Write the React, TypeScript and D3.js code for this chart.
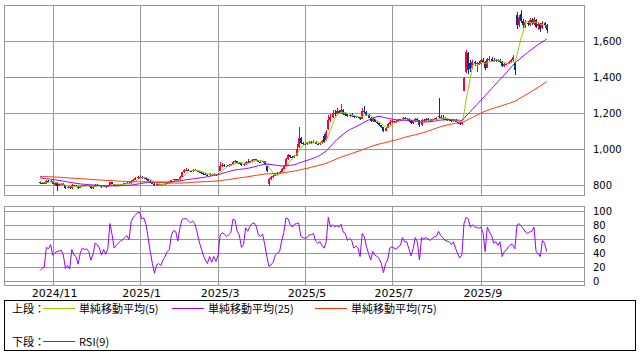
import React from 'react';
import * as d3 from 'd3';

// closes before the first visible day (only used to seed the moving averages)
const historyCloses = [
  845, 848, 852, 855, 850, 846, 849, 853, 857, 860, 858, 854, 851, 848, 850, 853, 856, 852, 849, 847,
  850, 854, 858, 861, 857, 853, 850, 848, 851, 855, 852, 849, 846, 850, 853, 856, 859, 855, 851, 848,
  846, 849, 852, 855, 851, 848, 850, 853, 851, 849,
  855, 858, 852, 848, 850, 853, 849, 846, 851, 848, 845, 850, 847, 843, 840, 836, 838, 834, 830, 826,
  824, 820, 818, 815,
];

// daily candles [open, high, low, close], 2024/10/24 .. 2025/10/16
const candles: [number, number, number, number][] = [
  [818,822,808,812],[812,816,806,810],[810,814,805,808],[808,826,806,822],[824,828,816,820],[818,828,815,824],[822,824,805,808],[800,815,795,812],[812,814,767,795],[795,808,792,805],
  [805,812,800,808],[808,810,798,802],[800,802,780,785],[785,795,782,790],[790,792,778,782],[782,804,780,800],[800,802,790,795],[795,798,788,793],[793,795,780,784],[784,796,782,793],
  [793,802,790,798],[798,800,792,797],[797,802,794,798],[798,800,790,794],[794,796,778,783],[783,792,778,790],[790,804,788,800],[800,803,794,799],[799,801,792,796],[796,797,786,789],
  [789,798,787,795],[795,797,786,790],[790,798,788,795],[796,818,794,815],[815,816,804,807],[807,808,795,798],[798,803,795,800],[800,805,797,802],[802,807,799,804],[804,809,800,806],
  [806,812,803,809],[809,815,806,812],[812,814,805,809],[810,826,808,822],[822,834,820,830],[830,842,828,838],[838,852,835,845],[845,855,840,847],[847,850,836,840],[840,846,835,842],
  [842,844,830,834],[834,836,822,825],[825,827,812,815],[815,817,804,808],[808,810,795,800],[800,806,797,803],[803,807,800,804],[804,806,797,801],[801,808,799,805],[805,811,802,808],
  [808,814,805,812],[812,817,809,814],[814,830,812,826],[826,836,823,832],[832,835,826,831],[831,833,822,826],[826,850,824,845],[845,875,843,870],[870,890,866,882],[882,892,876,885],
  [885,888,876,880],[880,884,872,878],[878,890,875,885],[885,890,878,882],[882,884,872,876],[876,880,866,870],[870,874,862,866],[866,870,858,862],[862,866,854,858],[858,862,850,855],
  [855,864,852,860],[860,862,852,856],[856,864,853,860],[860,862,852,857],[857,866,855,862],[880,930,876,905],[905,925,900,912],[912,918,902,908],[908,912,900,905],[905,914,902,910],
  [910,918,906,914],[914,935,912,930],[930,940,925,932],[932,935,922,925],[925,928,918,922],[922,924,908,912],[912,920,908,915],[915,932,913,928],[928,945,922,925],[925,935,922,932],
  [932,942,928,938],[938,946,934,942],[942,944,935,938],[938,940,928,930],[930,933,925,928],[928,936,925,932],[932,934,912,915],[905,908,875,880],[805,840,792,835],[835,850,830,845],
  [845,858,840,852],[852,866,848,862],[862,872,856,868],[868,876,862,872],[872,895,870,890],[890,910,886,905],[905,950,903,945],[945,972,940,965],[965,968,952,958],[958,962,948,955],
  [955,968,950,962],[962,1030,960,1000],[1010,1122,1005,1060],[1060,1065,1030,1035],[1035,1040,1022,1030],[1030,1036,1020,1028],[1028,1040,1024,1032],[1032,1045,1028,1038],[1038,1042,1030,1036],[1036,1048,1032,1040],
  [1040,1042,1026,1030],[1030,1034,1022,1028],[1028,1038,1024,1032],[1032,1050,1028,1045],[1075,1085,1035,1040],[1050,1105,1045,1095],[1110,1190,1105,1160],[1160,1195,1150,1180],[1180,1215,1175,1200],[1200,1215,1185,1195],
  [1195,1225,1190,1210],[1210,1218,1195,1200],[1200,1252,1195,1215],[1215,1220,1190,1195],[1195,1205,1185,1192],[1192,1196,1178,1182],[1182,1195,1178,1190],[1190,1198,1180,1186],[1186,1190,1172,1176],[1176,1186,1172,1182],
  [1182,1186,1170,1176],[1176,1180,1160,1165],[1168,1228,1165,1210],[1210,1240,1198,1205],[1205,1212,1185,1190],[1190,1195,1170,1175],[1175,1180,1150,1155],[1155,1172,1150,1165],[1165,1168,1148,1152],[1152,1158,1138,1142],
  [1142,1148,1128,1132],[1132,1136,1115,1120],[1120,1124,1096,1102],[1102,1125,1098,1118],[1118,1142,1115,1138],[1138,1160,1135,1152],[1152,1162,1145,1155],[1155,1158,1145,1150],[1150,1160,1146,1154],[1154,1165,1150,1160],
  [1160,1168,1155,1164],[1164,1180,1160,1175],[1175,1178,1165,1170],[1170,1175,1162,1168],[1168,1170,1152,1158],[1158,1160,1138,1145],[1145,1158,1140,1154],[1154,1172,1150,1166],[1166,1170,1155,1160],[1160,1162,1125,1132],
  [1132,1168,1130,1160],[1160,1165,1150,1158],[1158,1172,1155,1165],[1165,1170,1155,1160],[1160,1165,1150,1158],[1158,1168,1155,1164],[1164,1175,1160,1168],[1168,1180,1162,1172],[1185,1285,1165,1178],[1178,1190,1165,1172],
  [1172,1188,1160,1168],[1168,1180,1160,1165],[1165,1172,1158,1164],[1164,1168,1155,1162],[1162,1165,1150,1156],[1156,1166,1152,1162],[1162,1164,1148,1152],[1152,1155,1140,1146],[1146,1150,1135,1140],[1140,1152,1136,1148],
  [1325,1400,1320,1393],[1430,1548,1425,1540],[1535,1540,1415,1440],[1480,1492,1430,1445],[1450,1495,1445,1485],[1485,1490,1460,1470],[1470,1485,1430,1478],[1478,1488,1465,1472],[1472,1498,1468,1492],[1492,1505,1478,1485],
  [1485,1488,1440,1448],[1450,1505,1448,1498],[1498,1515,1490,1502],[1502,1510,1485,1490],[1490,1505,1486,1495],[1495,1500,1482,1488],[1488,1502,1484,1496],[1496,1500,1478,1485],[1485,1488,1455,1460],[1460,1478,1456,1470],
  [1470,1480,1465,1474],[1474,1490,1470,1482],[1482,1500,1478,1492],[1492,1522,1485,1512],[1480,1485,1410,1440],[1745,1760,1665,1690],[1690,1745,1680,1735],[1750,1770,1700,1710],[1710,1720,1670,1690],[1685,1715,1675,1705],
  [1700,1710,1685,1695],[1690,1725,1685,1715],[1715,1725,1690,1700],[1695,1735,1690,1720],[1715,1720,1670,1680],[1685,1705,1660,1695],[1695,1700,1650,1665],[1670,1710,1665,1700],[1700,1705,1670,1690],[1690,1695,1645,1660],
];

const rsi9 = [
  15,18,20,48,46,52,37,40,42,43, 44,37,18,22,17,45,37,35,24,40,
  47,45,46,42,30,38,54,52,47,37, 45,38,47,82,66,47,51,54,57,59,
  62,65,59,85,91,94,98,98,89,90, 81,62,42,25,11,23,25,22,30,35,
  42,45,66,72,71,57,76,88,89,89, 86,83,86,82,71,57,47,37,30,25,
  35,27,35,28,37,66,69,67,64,66, 69,88,87,71,66,48,52,76,71,78,
  82,83,78,66,64,67,52,35,21,23, 27,37,40,42,57,69,90,89,81,77,
  81,82,83,64,62,61,62,66,66,68, 57,54,56,51,47,56,91,77,80,77,
  79,77,81,70,68,58,61,58,47,50, 47,35,68,63,49,39,30,42,37,35,
  32,25,12,25,30,47,49,47,45,49, 51,62,56,56,46,36,46,62,56,30,
  62,60,62,60,58,61,63,64,71,65, 62,58,57,56,52,56,47,39,33,37,
  82,91,89,77,80,77,77,75,77,68, 42,77,70,65,54,56,51,56,35,42,
  44,49,52,52,46,80,82,78,75,70, 68,70,71,77,42,39,35,58,54,42,
];

const priceTicks = [800, 1000, 1200, 1400, 1600];
const rsiTicks = [0, 20, 40, 60, 80, 100];
const monthTickIndex = [6, 47, 84, 125, 166, 208];
const monthLabels = ['2024/11', '2025/1', '2025/3', '2025/5', '2025/7', '2025/9'];
const maPeriods = [5, 25, 75];
const maLabels = ['単純移動平均(5)', '単純移動平均(25)', '単純移動平均(75)'];
const maColors = ['#99cc00', '#9900ff', '#ff3300'];

const UP = '#ff0033';
const DOWN = '#003399';
const GRID = '#999999';

function movingAverage(n: number): number[] {
  const all = historyCloses.concat(candles.map((c) => c[3]));
  const off = historyCloses.length;
  return candles.map((_, i) => d3.mean(all.slice(off + i - n + 1, off + i + 1)) as number);
}

export default function App() {
  const W = 641, H = 355;
  const left = 4, right = 584;
  const upTop = 5, upBot = 195;
  const loTop = 206, loBot = 285;

  const x = d3.scaleLinear().domain([0, candles.length - 1]).range([40, 40 + (candles.length - 1) * 2.12]);
  const y = d3.scaleLinear().domain([800, 1800]).range([185, 5]);
  const yr = d3.scaleLinear().domain([0, 100]).range([281, 211]);

  const maLine = d3.line<number>().x((_, i) => x(i)).y((d) => y(d));
  const rsiLine = d3.line<number>().x((_, i) => x(i)).y((d) => yr(d));

  const font = '"DejaVu Sans", sans-serif';
  const jfont = '"Noto Sans CJK JP", "DejaVu Sans", sans-serif';

  return (
    <svg width={W} height={H} style={{ position: 'absolute', left: 0, top: 0, background: '#fff' }}>
      <rect x={0} y={0} width={W} height={H} fill="#fff" />
      <g shapeRendering="crispEdges" stroke={GRID} strokeWidth={1} fill="none">
        {/* upper panel */}
        <rect x={left + 0.5} y={upTop + 0.5} width={right - left} height={upBot - upTop} />
        {priceTicks.map((t) => (
          <line key={'p' + t} x1={left} x2={right} y1={Math.round(y(t)) + 0.5} y2={Math.round(y(t)) + 0.5} />
        ))}
        {monthTickIndex.map((t) => (
          <line key={'v' + t} x1={Math.round(x(t)) + 0.5} x2={Math.round(x(t)) + 0.5} y1={upTop} y2={upBot} />
        ))}
        {/* lower panel */}
        <rect x={left + 0.5} y={loTop + 0.5} width={right - left} height={loBot - loTop} />
        {rsiTicks.map((t) => (
          <line key={'r' + t} x1={left} x2={right} y1={Math.round(yr(t)) + 0.5} y2={Math.round(yr(t)) + 0.5} />
        ))}
        {monthTickIndex.map((t) => (
          <line key={'lv' + t} x1={Math.round(x(t)) + 0.5} x2={Math.round(x(t)) + 0.5} y1={loTop} y2={loBot} />
        ))}
      </g>

      {/* candles */}
      <g shapeRendering="crispEdges">
        {candles.map(([o, h, l, c], i) => {
          const cx = Math.round(x(i));
          const col = c >= o ? UP : DOWN;
          const top = Math.round(y(Math.max(o, c)));
          const bot = Math.round(y(Math.min(o, c)));
          return (
            <g key={i} fill={col}>
              <rect x={cx} y={Math.round(y(h))} width={1} height={Math.max(1, Math.round(y(l)) - Math.round(y(h)))} />
              <rect x={cx - 1} y={top} width={2} height={Math.max(1, bot - top)} />
            </g>
          );
        })}
      </g>

      {/* moving averages */}
      {maPeriods.map((n, k) => (
        <path key={n} d={maLine(movingAverage(n)) || ''} fill="none" stroke={maColors[k]} strokeWidth={1} />
      ))}

      {/* RSI */}
      <path d={rsiLine(rsi9) || ''} fill="none" stroke="#9900ff" strokeWidth={1} />

      {/* axis labels */}
      <g fontFamily={font} fontSize={10} fill="#000">
        {priceTicks.map((t) => (
          <text key={t} x={593} y={y(t)} dominantBaseline="central">{d3.format(',')(t)}</text>
        ))}
        {rsiTicks.map((t) => (
          <text key={t} x={593} y={yr(t)} dominantBaseline="central">{t}</text>
        ))}
      </g>
      <g fontFamily={font} fontSize={11} fill="#000">
        {monthTickIndex.map((t, k) => (
          <text key={t} x={x(t) + 2} y={293} textAnchor="middle" dominantBaseline="central">{monthLabels[k]}</text>
        ))}
      </g>

      {/* legend */}
      <rect x={4.5} y={300.5} width={631} height={50} fill="none" stroke="#000" strokeWidth={1} shapeRendering="crispEdges" />
      <g fontFamily={jfont} fontSize={11} fill="#000">
        <text x={12} y={308} dominantBaseline="central">上段：</text>
        <text x={12} y={341} dominantBaseline="central">下段：</text>
        {maLabels.map((lab, k) => {
          const lx = [43, 172, 315][k];
          return (
            <g key={lab}>
              <line x1={lx} x2={lx + 32} y1={308.5} y2={308.5} stroke={maColors[k]} strokeWidth={1} />
              <text x={lx + 36} y={308} dominantBaseline="central">{lab}</text>
            </g>
          );
        })}
        <line x1={43} x2={75} y1={341.5} y2={341.5} stroke="#9900ff" strokeWidth={1} />
        <text x={79} y={341} dominantBaseline="central">RSI(9)</text>
      </g>
    </svg>
  );
}
